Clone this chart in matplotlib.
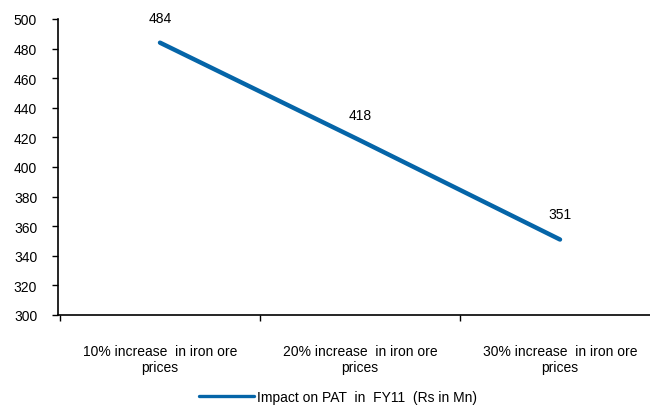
import matplotlib
matplotlib.use("Agg")
import matplotlib.pyplot as plt
from matplotlib.ticker import FixedLocator

plt.rcParams['font.family'] = ['Liberation Sans', 'DejaVu Sans']

categories = ["10% increase  in iron ore\nprices",
              "20% increase  in iron ore\nprices",
              "30% increase  in iron ore\nprices"]
pat_impact = [484, 418, 351]
series_name = "Impact on PAT  in  FY11  (Rs in Mn)"
line_color = "#0565A8"

fs = 10

fig = plt.figure(figsize=(6.5, 4.1), dpi=100)
ax = fig.add_axes([58 / 650, 1 - 316 / 410, 600 / 650, 296 / 410])

x = list(range(len(categories)))
ax.plot(x, pat_impact, color=line_color, linewidth=3.2, solid_capstyle='round',
        label=series_name)

for xi, v in zip(x, pat_impact):
    ax.annotate(str(v), (xi, v), xytext=(0, 13), textcoords='offset points',
                ha='center', va='bottom', fontsize=fs, color='black')

ax.set_xlim(-0.51, 2.49)
ax.set_ylim(300, 500)
ax.set_yticks(range(300, 501, 20))
ax.set_xticks(x)
ax.set_xticklabels(categories, fontsize=fs, linespacing=1.15)
ax.xaxis.set_minor_locator(FixedLocator([-0.5, 0.5, 1.5]))
ax.tick_params(axis='x', which='major', length=0, pad=21)
ax.tick_params(axis='x', which='minor', length=4, width=1, direction='out')
ax.tick_params(axis='y', length=4, width=1, direction='out', labelsize=fs, pad=11)

for side in ('top', 'right'):
    ax.spines[side].set_visible(False)
for side in ('left', 'bottom'):
    ax.spines[side].set_linewidth(1.2)

leg = fig.legend(loc='lower center', bbox_to_anchor=(0.52, -0.018), frameon=False,
                 fontsize=fs, handlelength=4.0, handletextpad=0.2)
for h in leg.get_lines():
    h.set_linewidth(2.4)

fig.savefig("out.png", dpi=100)
